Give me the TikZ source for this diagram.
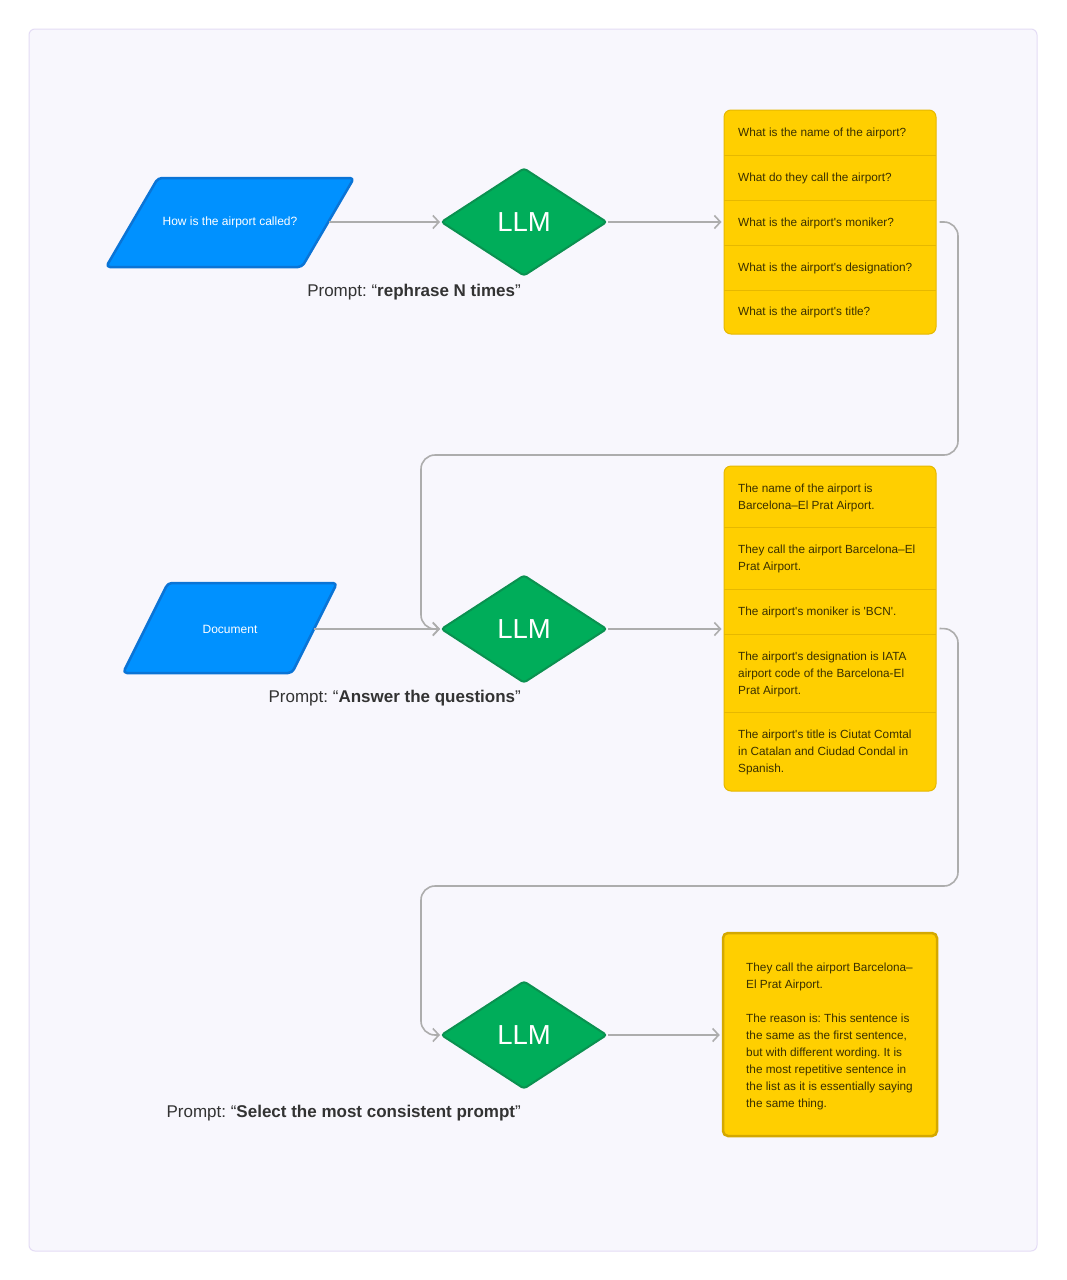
\documentclass[tikz,border=0pt]{standalone}
\usepackage{fontspec}
\setmainfont{Liberation Sans}
\usetikzlibrary{shapes.geometric,arrows.meta}
\definecolor{panelfill}{HTML}{F8F7FD}
\definecolor{panelline}{HTML}{E4DCF5}
\definecolor{bluefill}{HTML}{0091FF}
\definecolor{blueline}{HTML}{0A74D6}
\definecolor{greenfill}{HTML}{00AD5A}
\definecolor{greenline}{HTML}{0A9150}
\definecolor{yellowfill}{HTML}{FFCF00}
\definecolor{yellowline}{HTML}{E6B800}
\definecolor{yellowdark}{HTML}{D4A800}
\definecolor{ytext}{HTML}{3A3000}
\definecolor{conncol}{HTML}{ADADAD}
\definecolor{labeltext}{HTML}{333333}
\newcommand{\sq}{\textquotesingle{}}
\frenchspacing
\begin{document}
\begin{tikzpicture}[x=1pt,y=-1pt,
  panel/.style={fill=panelfill,draw=panelline,line width=1,rounded corners=6},
  para/.style={fill=bluefill,draw=blueline,line width=2.5,rounded corners=4,line join=round},
  paratext/.style={text=white,font=\fontsize{12}{14}\selectfont,inner sep=0},
  llm/.style={diamond,fill=greenfill,draw=greenline,line width=2,rounded corners=3,
    minimum width=166,minimum height=108,inner sep=0,aspect=1.54,
    text=white,font=\fontsize{27.5}{30}\selectfont},
  listbox/.style={rectangle,fill=yellowfill,draw=yellowline,line width=1,rounded corners=7,inner sep=0},
  finalbox/.style={rectangle,fill=yellowfill,draw=yellowdark,line width=2.5,rounded corners=5,inner sep=0},
  divider/.style={draw=yellowline,line width=1},
  rowtext/.style={anchor=west,align=left,inner sep=0,text=ytext,font=\fontsize{11.8}{17}\selectfont},
  conn/.style={draw=conncol,line width=1.6,rounded corners=14,
    -{Straight Barb[length=6,width=13,line width=1.6]}},
  plabel/.style={anchor=east,inner sep=0,text=labeltext,font=\fontsize{17}{20}\selectfont}
]
\useasboundingbox (0,0) rectangle (1066,1280);
\fill[white] (0,0) rectangle (1066,1280);
\draw[panel] (29,29) rectangle (1037,1251);

% ---- row 1 ----
\draw[para] (158,178) -- (354,178) -- (302,267) -- (106,267) -- cycle;
\node[paratext] (p1) at (230,222) {How is the airport called?};
\coordinate (p1e) at (329,222);
\node[llm] (d1) at (524,222) {LLM};
\node[plabel] (l1) at (521,292) {Prompt: “\textbf{rephrase N times}”};

\node[listbox,minimum width=212,minimum height=224] (q) at (830,222) {};
\foreach \yy in {155,200,245,290} \draw[divider] (724,\yy) -- (936,\yy);
\node[rowtext] (q1) at (738,133) {What is the name of the airport?};
\node[rowtext] (q2) at (738,178) {What do they call the airport?};
\node[rowtext] (q3) at (738,223) {What is the airport\sq s moniker?};
\node[rowtext] (q4) at (738,268) {What is the airport\sq s designation?};
\node[rowtext] (q5) at (738,312.5) {What is the airport\sq s title?};

\draw[conn,rounded corners=0] (p1e) -- (d1.west);
\draw[conn,rounded corners=0] (d1.east) -- ([xshift=-2]d1.east -| q.west);

% ---- row 2 ----
\draw[para] (168,583) -- (337,583) -- (292,673) -- (123,673) -- cycle;
\node[paratext] (p2) at (230,629) {Document};
\coordinate (p2e) at (314,629);
\node[llm] (d2) at (524,629) {LLM};
\node[plabel] (l2) at (521,698) {Prompt: “\textbf{Answer the questions}”};

\node[listbox,minimum width=212,minimum height=325] (a) at (830,628.5) {};
\foreach \yy in {527,589,634,712} \draw[divider] (724,\yy) -- (936,\yy);
\node[rowtext] (a1) at (738,497.5) {The name of the airport is\\Barcelona–El Prat Airport.};
\node[rowtext] (a2) at (738,559) {They call the airport Barcelona–El\\Prat Airport.};
\node[rowtext] (a3) at (738,612.5) {The airport\sq s moniker is \sq BCN\sq.};
\node[rowtext] (a4) at (738,674) {The airport\sq s designation is IATA\\airport code of the Barcelona-El\\Prat Airport.};
\node[rowtext] (a5) at (738,752.5) {The airport\sq s title is Ciutat Comtal\\in Catalan and Ciudad Condal in\\Spanish.};

\draw[conn,rounded corners=0] (p2e) -- (d2.west);
\draw[conn,rounded corners=0] (d2.east) -- ([xshift=-2]d2.east -| a.west);
\draw[conn] ([xshift=3]q.east) -- (958,222) -- (958,455) -- (421,455) -- (421,629) -- (d2.west);

% ---- row 3 ----
\node[llm] (d3) at (524,1035) {LLM};
\node[plabel] (l3) at (521,1113) {Prompt: “\textbf{Select the most consistent prompt}”};
\node[finalbox,minimum width=214,minimum height=203] (f) at (830,1034.5) {};
\node[rowtext] (ft) at (746,1036) {They call the airport Barcelona–\\El Prat Airport.\\[17pt]The reason is: This sentence is\\the same as the first sentence,\\but with different wording. It is\\the most repetitive sentence in\\the list as it is essentially saying\\the same thing.};

\draw[conn] ([xshift=3]a.east) -- (958,629) -- (958,886) -- (421,886) -- (421,1035) -- (d3.west);
\draw[conn,rounded corners=0] (d3.east) -- ([xshift=-2]d3.east -| f.west);
\end{tikzpicture}
\end{document}
